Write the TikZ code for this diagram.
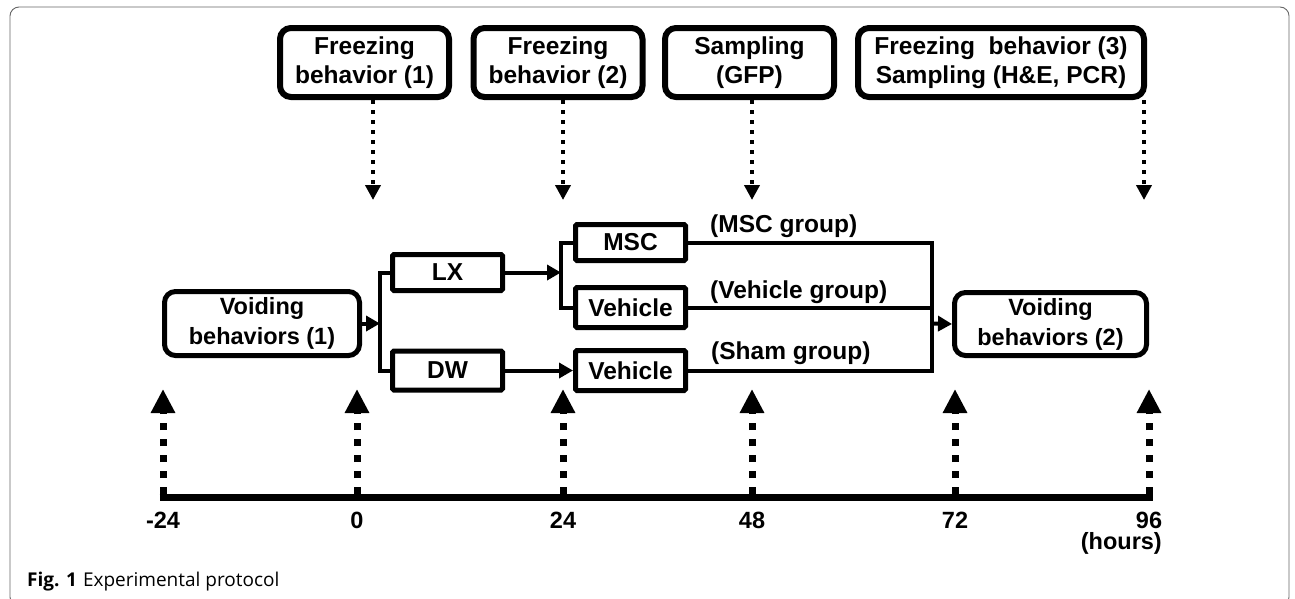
\documentclass[tikz,border=0pt]{standalone}
\usepackage{fontspec}
\setmainfont{Liberation Sans}
\newfontfamily\capfont{Open Sans}
\usetikzlibrary{arrows.meta}
\newcommand\topfont{\fontsize{24.5}{29}\selectfont\bfseries}
\newcommand\voidfont{\fontsize{23.5}{30}\selectfont\bfseries}
\newcommand\smallfont{\fontsize{24.5}{28}\selectfont\bfseries}
\newcommand\grpfont{\fontsize{24.5}{28}\selectfont\bfseries}
\newcommand\tickfont{\fontsize{23.5}{26}\selectfont\bfseries}
\begin{document}
\begin{tikzpicture}[x=1pt,y=-1pt,
  box/.style={draw, align=center, inner sep=0pt},
  topbox/.style={box, line width=6pt, rounded corners=11pt, font=\topfont, minimum height=69pt},
  voidbox/.style={box, line width=5pt, rounded corners=11pt, font=\voidfont},
  sbox/.style={box, line width=5pt, rounded corners=1.5pt, minimum width=110pt, font=\smallfont},
  flow/.style={line width=4pt, -{Triangle[length=14pt,width=15pt]}},
  conn/.style={line width=4pt},
  downarr/.style={line width=4.5pt, dash pattern=on 4pt off 6pt, -{Triangle[length=15pt,width=15pt]}},
  uparr/.style={line width=7pt, dash pattern=on 7pt off 9pt, -{Triangle[length=24pt,width=23pt]}},
  grp/.style={font=\grpfont, inner sep=0pt, anchor=west},
  tick/.style={font=\tickfont, inner sep=0pt},
]
\useasboundingbox (0,0) rectangle (1295,598);
\fill[white] (0,0) rectangle (1295,598);
% frame
\draw[black!60, line width=0.9pt, rounded corners=9pt] (10,7) rectangle (1289,606);

% top boxes
\node[topbox, minimum width=169pt] (f1) at (364.5,62.5) {Freezing\\behavior (1)};
\node[topbox, minimum width=169pt] (f2) at (558,62.5) {Freezing\\behavior (2)};
\node[topbox, minimum width=169pt] (s1) at (749.5,62.5) {Sampling\\(GFP)};
\node[topbox, minimum width=286pt] (f3) at (1001,62.5) {Freezing\ \ behavior (3)\\Sampling (H\&E, PCR)};

% top arrows
\coordinate (d1) at (373,200);
\coordinate (d2) at (563,200);
\coordinate (d3) at (752,200);
\coordinate (d4) at (1144,200);
\draw[downarr] (f1.south -| d1) -- (d1);
\draw[downarr] (f2.south -| d2) -- (d2);
\draw[downarr] (s1.south -| d3) -- (d3);
\draw[downarr] (f3.south -| d4) -- (d4);

% flow boxes
\node[voidbox, minimum width=195pt, minimum height=64pt] (v1) at (262,323.5) {Voiding\\behaviors (1)};
\node[sbox, minimum height=36pt] (lx) at (447.5,272.5) {LX};
\node[sbox, minimum height=39pt] (dw) at (447.5,370.5) {DW};
\node[sbox, minimum height=36pt] (msc) at (630.5,242.5) {MSC};
\node[sbox, minimum height=40pt] (veh1) at (630.5,307.5) {Vehicle};
\node[sbox, minimum height=40pt] (veh2) at (630.5,370.5) {Vehicle};
\node[voidbox, minimum width=192pt, minimum height=63pt] (v2) at (1050.5,324) {Voiding\\behaviors (2)};

% flow connectors
\coordinate (b1) at (380,323.5);
\draw[flow] (v1.east) -- (b1);
\draw[conn] (lx.west) -- (lx.west -| b1) -- (dw.west -| b1) -- (dw.west);
\coordinate (b2) at (561,272.5);
\draw[flow] (lx.east) -- (b2);
\draw[conn] (msc.west) -- (msc.west -| b2) -- (veh1.west -| b2) -- (veh1.west);
\draw[flow] (dw.east) -- (veh2.west);
\coordinate (m) at (932,323.5);
\draw[conn] (msc.east) -- (msc.east -| m) -- (veh2.east -| m) -- (veh2.east);
\draw[conn] (veh1.east) -- (veh1.east -| m);
\draw[flow] (m) -- (v2.west);

% group labels
\node[grp] (g1) at (710,226) {(MSC group)};
\node[grp] (g2) at (710,292) {(Vehicle group)};
\node[grp] (g3) at (711,353) {(Sham group)};

% timeline
\coordinate (tl) at (159.5,497);
\coordinate (tr) at (1153,497);
\draw[line width=7pt] (tl) -- (tr);

% upward arrows
\foreach \n/\x in {1/163,2/357,3/563,4/752,5/955,6/1149}{
  \coordinate (a\n) at (\x,494);
  \coordinate (u\n) at (\x,389);
  \draw[uparr] (a\n) -- (u\n);
}

% tick labels
\node[tick] (k1) at (163,520) {-24};
\node[tick] (k2) at (357,520) {0};
\node[tick] (k3) at (563,520) {24};
\node[tick] (k4) at (752,520) {48};
\node[tick] (k5) at (955,520) {72};
\node[tick] (k6) at (1149,520) {96};
\node[tick, anchor=east] (hrs) at (1162,543.5) {(hours)};

% caption
\node[anchor=base west, inner sep=0pt, font=\capfont\fontsize{19}{22}\selectfont] (cap) at (27,586) {\textbf{Fig. 1}\hspace{6pt}Experimental protocol};
\end{tikzpicture}
\end{document}
